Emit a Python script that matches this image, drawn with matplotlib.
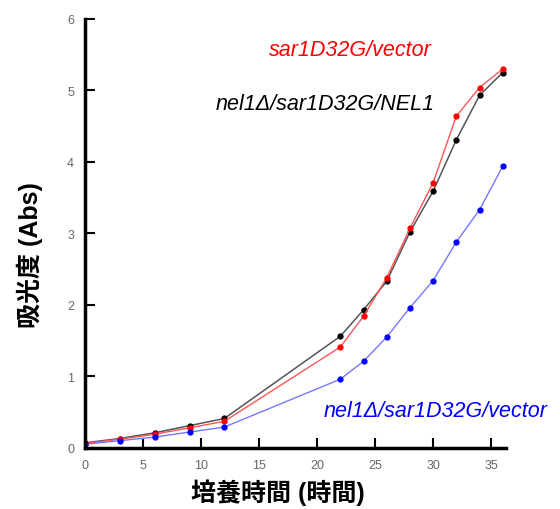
import matplotlib
matplotlib.use('Agg')
import matplotlib.pyplot as plt

plt.rcParams['font.family'] = ['Liberation Sans', 'Noto Sans CJK JP', 'DejaVu Sans']

# time points (hours)
hours = [0, 3, 6, 9, 12, 22, 24, 26, 28, 30, 32, 34, 36]

# absorbance values
absNEL1 = [0.07, 0.13, 0.21, 0.31, 0.41, 1.56, 1.93, 2.33, 3.02, 3.59, 4.31, 4.93, 5.25]
absVector = [0.06, 0.12, 0.19, 0.28, 0.37, 1.41, 1.84, 2.38, 3.07, 3.71, 4.64, 5.04, 5.30]
absNel1Vector = [0.05, 0.10, 0.15, 0.22, 0.29, 0.96, 1.21, 1.55, 1.96, 2.34, 2.88, 3.33, 3.94]

W, H = 560, 510
fig = plt.figure(figsize=(W / 100, H / 100), dpi=100)
ax = fig.add_axes([0.152, 0.12, 0.752, 0.841])

ax.plot(hours, absNEL1, color='#555555', lw=1.1, marker='o', ms=3.5, mfc='black', mec='black')
ax.plot(hours, absVector, color='#ff5555', lw=1.0, marker='o', ms=3.5, mfc='red', mec='red')
ax.plot(hours, absNel1Vector, color='#7777ff', lw=1.0, marker='o', ms=3.5, mfc='blue', mec='blue')

# series labels, placed in pixel positions (from top-left)
def label(x, y, s, c):
    fig.text(x / W, 1 - y / H, s, color=c, style='italic', fontsize=15.5, ha='center', va='center')

label(350, 51, 'sar1D32G/vector', 'red')
label(325, 105, 'nel1Δ/sar1D32G/NEL1', 'black')
label(436, 412, 'nel1Δ/sar1D32G/vector', 'blue')

ax.set_xlim(0, 36.3)
ax.set_ylim(0, 6)
ax.set_xticks(range(0, 36, 5))
ax.set_yticks(range(0, 7))

for s in ['top', 'right']:
    ax.spines[s].set_visible(False)
for s in ['left', 'bottom']:
    ax.spines[s].set_linewidth(2.5)

ax.tick_params(direction='in', length=7, width=1.5, colors='black', labelcolor='#666666', labelsize=9, pad=8)

fig.text(278 / W, 1 - 493 / H, '培養時間 (時間)', fontsize=18, fontweight='bold', ha='center', va='center')
fig.text(30 / W, 1 - 255 / H, '吸光度 (Abs)', fontsize=18, fontweight='bold', ha='center', va='center', rotation=90)

fig.savefig('out.png')
